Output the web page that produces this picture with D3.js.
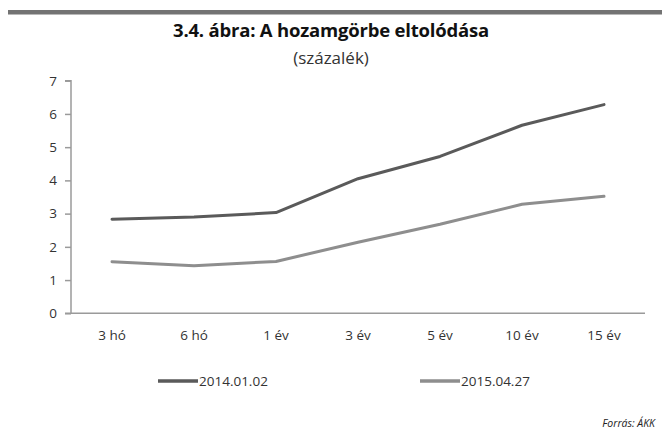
<!DOCTYPE html>
<html><head><meta charset="utf-8">
<script src="https://cdn.jsdelivr.net/npm/d3@7"></script>
<style>
body{margin:0;background:#fff;}
text{font-family:"Open Sans","Noto Sans",sans-serif;}
</style></head>
<body><svg id="c" width="662" height="440"></svg>
<script>
const categories = ["3 hó","6 hó","1 év","3 év","5 év","10 év","15 év"];
const series2014 = [2.83, 2.90, 3.03, 4.05, 4.72, 5.66, 6.28];
const series2015 = [1.55, 1.43, 1.56, 2.14, 2.68, 3.28, 3.52];
const seriesNames = ["2014.01.02","2015.04.27"];
const yTicks = [0,1,2,3,4,5,6,7];
const title = "3.4. ábra: A hozamgörbe eltolódása";
const subtitle = "(százalék)";
const source = "Forrás: ÁKK";

const svg = d3.select("#c");
const colors = ["#5a5a5a","#8e8e8e"];

svg.append("rect").attr("x",8).attr("y",10).attr("width",654).attr("height",4.5).attr("fill","#737373");
svg.append("text").attr("x",331).attr("y",37).attr("text-anchor","middle")
  .attr("font-size",18.5).attr("font-weight","bold").attr("letter-spacing",-0.2).attr("fill","#111").text(title);
svg.append("text").attr("x",331).attr("y",64).attr("text-anchor","middle")
  .attr("font-size",17).attr("fill","#333").text(subtitle);

const x = d3.scaleBand().domain(categories).range([71,645]);
const y = d3.scaleLinear().domain([0,7]).range([313.3,80.7]);

const yAxis = svg.append("g").attr("transform","translate(71,0)")
  .call(d3.axisLeft(y).tickValues(yTicks).tickSize(6).tickPadding(8).tickFormat(d3.format("d")));
yAxis.selectAll("path,line").attr("stroke","#9a9a9a").attr("stroke-width",1.5);
yAxis.select(".domain").attr("d","M-6,80.7H0V313.3");
yAxis.selectAll("text").attr("font-size",13.5).attr("fill","#333").attr("font-family","Open Sans, sans-serif");

const xAxis = svg.append("g").attr("transform","translate(0,313.3)")
  .call(d3.axisBottom(x).tickSize(0).tickPadding(17));
xAxis.select(".domain").attr("stroke","#9a9a9a").attr("stroke-width",1.5).attr("d","M65,0H645");
xAxis.selectAll("text").attr("font-size",13.5).attr("fill","#333").attr("font-family","Open Sans, sans-serif");

const line = d3.line().x((d,i)=>x(categories[i])+x.bandwidth()/2).y(d=>y(d));
[series2014, series2015].forEach((s,k)=>{
  svg.append("path").datum(s).attr("d",line).attr("fill","none")
    .attr("stroke",colors[k]).attr("stroke-width",3).attr("stroke-linejoin","round").attr("stroke-linecap","round");
});

const legendX = [158, 420];
seriesNames.forEach((n,k)=>{
  svg.append("line").attr("x1",legendX[k]).attr("x2",legendX[k]+40).attr("y1",381).attr("y2",381)
    .attr("stroke",colors[k]).attr("stroke-width",3.5);
  svg.append("text").attr("x",legendX[k]+41).attr("y",386).attr("font-size",13.5).attr("fill","#333").text(n);
});

svg.append("text").attr("x",655).attr("y",427).attr("text-anchor","end")
  .attr("font-size",10.5).attr("font-style","italic").attr("fill","#222").text(source);
</script></body></html>
